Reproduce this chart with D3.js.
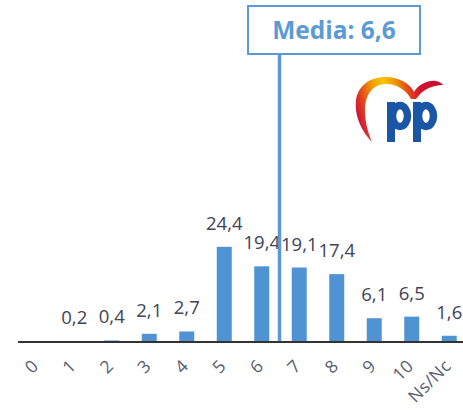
<!DOCTYPE html>
<html><head><meta charset="utf-8">
<script src="https://cdn.jsdelivr.net/npm/d3@7"></script>
<style>body{margin:0;background:#fff;}svg{display:block;}</style>
</head><body><div id="chart"></div>
<script>
const categories = ["0","1","2","3","4","5","6","7","8","9","10","Ns/Nc"];
const values = [0, 0.2, 0.4, 2.1, 2.7, 24.4, 19.4, 19.1, 17.4, 6.1, 6.5, 1.6];
const valueLabels = ["", "0,2", "0,4", "2,1", "2,7", "24,4", "19,4", "19,1", "17,4", "6,1", "6,5", "1,6"];
const meanLabel = "Media: 6,6";
const meanBetween = ["6", "7"];

const W = 463, H = 411;
const svg = d3.select("#chart").append("svg").attr("width", W).attr("height", H);

const x = d3.scaleBand().domain(categories).range([18, 468]).paddingInner(0.6).paddingOuter(0.3);
const y = d3.scaleLinear().domain([0, 25]).range([342, 244.5]);

const barColor = "#5093d3";
const blue = "#5b9bd5";
const labelColor = "#404456";

// bars
svg.selectAll("rect.bar").data(values).enter().append("rect")
  .attr("class", "bar")
  .attr("x", (d, i) => x(categories[i]))
  .attr("width", x.bandwidth())
  .attr("y", d => y(d))
  .attr("height", d => y(0) - y(d))
  .attr("fill", barColor);

// value labels
svg.selectAll("text.val").data(values).enter().append("text")
  .attr("class", "val")
  .attr("x", (d, i) => x(categories[i]) + x.bandwidth() / 2)
  .attr("y", d => y(d) - 17)
  .attr("text-anchor", "middle")
  .attr("font-family", "Open Sans, sans-serif")
  .attr("font-size", 18.5)
  .attr("fill", labelColor)
  .text((d, i) => valueLabels[i]);

// x axis
const axis = d3.axisBottom(x).tickSize(0).tickPadding(0);
const gx = svg.append("g").attr("transform", `translate(0,${y(0)})`).call(axis);
gx.select(".domain").remove();
gx.selectAll("text")
  .attr("font-family", "Open Sans, sans-serif")
  .attr("font-size", 17.5)
  .attr("letter-spacing", 0.5)
  .attr("fill", "#5a5e6e")
  .attr("text-anchor", "end")
  .attr("dy", 0)
  .attr("transform", "translate(3,25) rotate(-45)");
svg.append("line").attr("x1", 18).attr("x2", W).attr("y1", y(0)).attr("y2", y(0))
  .attr("stroke", "#333").attr("stroke-width", 2);

// mean line and box
const mx = (x(meanBetween[0]) + x.bandwidth() + x(meanBetween[1])) / 2 - 1;
svg.append("line").attr("x1", mx).attr("x2", mx).attr("y1", 54).attr("y2", y(0) - 1)
  .attr("stroke", blue).attr("stroke-width", 3.5);
svg.append("rect").attr("x", 248).attr("y", 6).attr("width", 172).attr("height", 48)
  .attr("fill", "#fff").attr("stroke", blue).attr("stroke-width", 2);
svg.append("text").attr("x", 334).attr("y", 38.5).attr("text-anchor", "middle")
  .attr("font-family", "Open Sans, sans-serif").attr("font-weight", "bold")
  .attr("font-size", 24.5).attr("fill", blue).text(meanLabel);

// PP logo
const defs = svg.append("defs");
const grad = defs.append("linearGradient").attr("id", "sw").attr("gradientUnits", "userSpaceOnUse")
  .attr("x1", 355).attr("y1", 110).attr("x2", 443).attr("y2", 85);
[[0, "#cf0f3a"], [0.1, "#e0401f"], [0.25, "#f29a00"], [0.38, "#f8c600"], [0.52, "#f08e00"], [0.64, "#e03c1e"], [0.75, "#d3122e"], [1, "#c8102e"]]
  .forEach(([o, c]) => grad.append("stop").attr("offset", o).attr("stop-color", c));
const logo = svg.append("g");
logo.append("path")
  .attr("d", "M372,142 C362,132 354,116 356,100 C358,86 370,77 385,77 C400,77 410,84 414,92 C419,84 428,80 436,81 C440,82 442,83 443,85 C437,85 428,87 421,93 L416,99 L411,99 C406,90 397,84 386,84 C372,84 365,96 365,110 C365,122 368,133 372,142 Z")
  .attr("fill", "url(#sw)");
const pBlue = "#1a56a5";
[387, 413].forEach(px => {
  logo.append("rect").attr("x", px).attr("y", 102).attr("width", 8).attr("height", 40).attr("fill", pBlue);
  logo.append("ellipse").attr("cx", px + 13).attr("cy", 116).attr("rx", 7.5).attr("ry", 10.5)
    .attr("fill", "none").attr("stroke", pBlue).attr("stroke-width", 7.5);
});
</script></body></html>
